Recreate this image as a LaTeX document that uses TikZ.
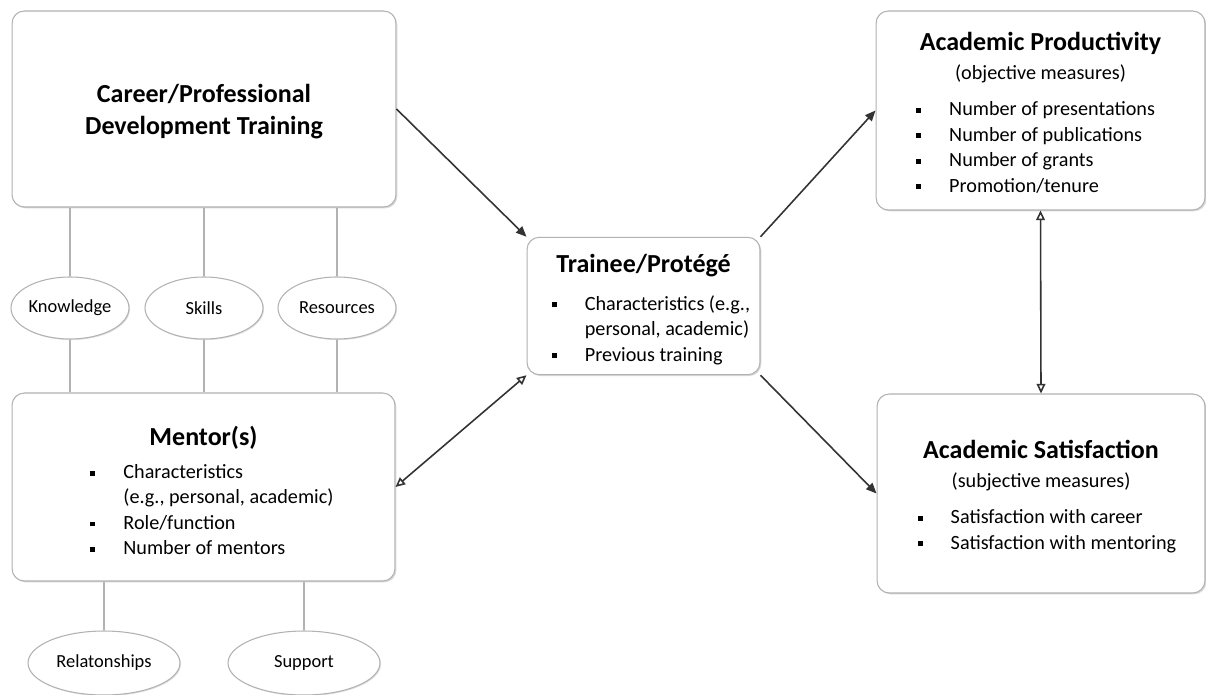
\documentclass[tikz,border=0pt]{standalone}
\usepackage{fontspec}
\setmainfont{Carlito}
\usetikzlibrary{shapes.geometric,shadows,arrows.meta}

\newcommand{\bul}{\rule[0.3ex]{2.8pt}{2.8pt}}
\newcommand{\pad}[1]{\rule{0pt}{#1}}
\newcommand{\ttlfont}{\fontsize{14.8}{18}\selectfont\bfseries}
\newcommand{\txtfont}{\fontsize{11.5}{14.5}\selectfont}

\tikzset{
  box/.style={draw=gray!60, line width=0.6pt, rounded corners=7pt, fill=white,
    align=center, font=\txtfont,
    drop shadow={shadow xshift=0.8pt, shadow yshift=-0.8pt, opacity=0.3}},
  oval/.style={ellipse, draw=gray!60, line width=0.6pt, fill=white, inner sep=0pt,
    font=\fontsize{10.5}{12}\selectfont,
    drop shadow={shadow xshift=0.6pt, shadow yshift=-0.6pt, opacity=0.25}},
  link/.style={draw=gray!60, line width=0.6pt},
  arr/.style={draw=black!80, line width=0.9pt, -{Triangle[length=6pt,width=5pt]}},
  twoway/.style={draw=black!80, line width=0.9pt,
    {Triangle[open,length=5.5pt,width=5pt]}-{Triangle[open,length=5.5pt,width=5pt]}}
}

\begin{document}
\begin{tikzpicture}[x=0.02cm, y=-0.02cm]
  \useasboundingbox[fill=white] (0,0) rectangle (1206,695);

  % left column: training and mentors
  \node[box, font=\ttlfont, minimum width=7.68cm, minimum height=3.92cm] (career) at (204,109)
    {\pad{13.2pt}Career/Professional\\Development Training};
  \node[box, minimum width=7.66cm, minimum height=3.76cm] (mentor) at (203.5,487)
    {{\ttlfont\pad{19.6pt}Mentor(s)}\\[4pt]
     \hspace*{9.6pt}\begin{tabular}[t]{@{}l@{\hspace{16pt}}l@{}}
       \bul & Characteristics\\
            & (e.g., personal, academic)\\
       \bul & Role/function\\
       \bul & Number of mentors
     \end{tabular}};

  % what the training passes on
  \node[oval, minimum width=2.36cm, minimum height=1.24cm] (know) at (70,308) {Knowledge};
  \node[oval, minimum width=2.36cm, minimum height=1.24cm] (skill) at (204,308) {Skills};
  \node[oval, minimum width=2.36cm, minimum height=1.24cm] (res) at (337,308) {Resources};
  \node[oval, minimum width=3.04cm, minimum height=1.28cm] (rel) at (104,663) {Relatonships};
  \node[oval, minimum width=3.04cm, minimum height=1.28cm] (supp) at (304,663) {Support};

  \foreach \o in {know,skill,res} {
    \draw[link] (\o) -- (\o |- career.south);
    \draw[link] (\o) -- (\o |- mentor.north);
  }
  \foreach \o in {rel,supp}
    \draw[link] (\o) -- (\o |- mentor.south);

  % trainee in the middle
  \node[box, minimum width=4.66cm, minimum height=2.68cm] (trainee) at (643.5,306)
    {{\ttlfont\pad{16.7pt}Trainee/Protégé}\\[7pt]
     \hspace*{8.5pt}\begin{tabular}[t]{@{}l@{\hspace{16pt}}l@{}}
       \bul & Characteristics (e.g.,\\
            & personal, academic)\\
       \bul & Previous training
     \end{tabular}};

  % outcomes on the right
  \node[box, minimum width=6.58cm, minimum height=3.98cm] (prod) at (1040.5,110.5)
    {{\ttlfont\pad{16.7pt}Academic Productivity}\\[2pt]
     (objective measures)\\[6pt]
     \hspace*{-5.6pt}\begin{tabular}[t]{@{}l@{\hspace{16pt}}l@{}}
       \bul & Number of presentations\\
       \bul & Number of publications\\
       \bul & Number of grants\\
       \bul & Promotion/tenure
     \end{tabular}};
  \node[box, minimum width=6.56cm, minimum height=3.98cm] (sat) at (1041,493.5)
    {{\ttlfont\pad{16.1pt}Academic Satisfaction}\\[2pt]
     (subjective measures)\\[6pt]
     \hspace*{6.8pt}\begin{tabular}[t]{@{}l@{\hspace{16pt}}l@{}}
       \bul & Satisfaction with career\\
       \bul & Satisfaction with mentoring
     \end{tabular}};

  % connectors
  \draw[arr] (career.east) -- (trainee.north west);
  \draw[arr] (trainee.north east) -- (prod.west);
  \draw[arr] (trainee.south east) -- (sat.west);
  \draw[twoway] (mentor.east) -- (trainee.south west);
  \draw[twoway] (prod.south) -- (sat.north);
\end{tikzpicture}
\end{document}
